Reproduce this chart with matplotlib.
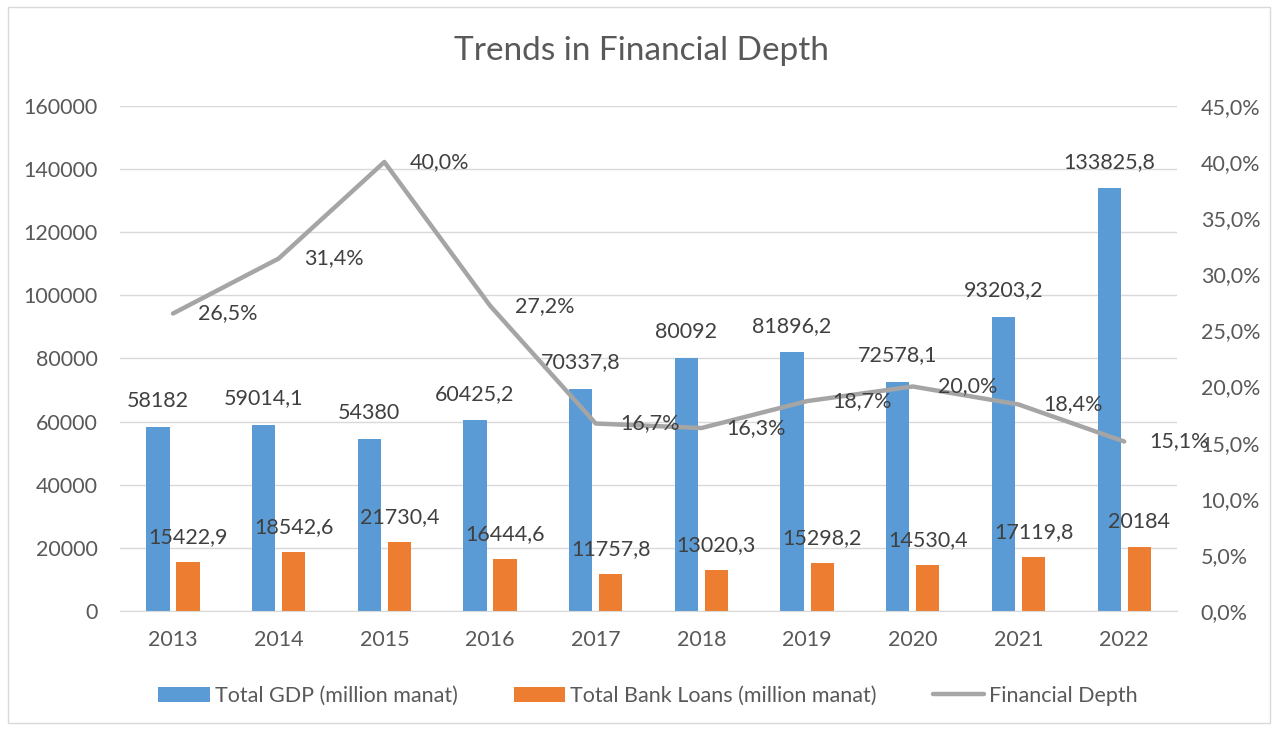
import numpy as np
import matplotlib.pyplot as plt
from matplotlib.patches import Rectangle
from matplotlib.ticker import FuncFormatter

plt.rcParams['font.family'] = ['Lato', 'DejaVu Sans']

years = ["2013", "2014", "2015", "2016", "2017", "2018", "2019", "2020", "2021", "2022"]
gdp = [58182, 59014.1, 54380, 60425.2, 70337.8, 80092, 81896.2, 72578.1, 93203.2, 133825.8]
loans = [15422.9, 18542.6, 21730.4, 16444.6, 11757.8, 13020.3, 15298.2, 14530.4, 17119.8, 20184]
depth = [26.5, 31.4, 40.0, 27.2, 16.7, 16.3, 18.7, 20.0, 18.4, 15.1]

BLUE = "#5B9BD5"
ORANGE = "#ED7D31"
GRAY = "#A5A5A5"
TXT = "#595959"
FS = 15.5


def fmt_num(v):
    s = str(v)
    if s.endswith(".0"):
        s = s[:-2]
    return s.replace(".", ",")


fig = plt.figure(figsize=(12.78, 7.3), dpi=100)
ax = fig.add_axes([0.094, 0.163, 0.827, 0.692])
ax2 = ax.twinx()

x = np.arange(len(years))
w = 0.22
off = 0.142
b1 = ax.bar(x - off, gdp, w, color=BLUE, label="Total GDP (million manat)", zorder=2)
b2 = ax.bar(x + off, loans, w, color=ORANGE, label="Total Bank Loans (million manat)", zorder=2)
ln, = ax2.plot(x, depth, color=GRAY, lw=3.2, label="Financial Depth", solid_capstyle="round")

ax.set_xlim(-0.5, len(years) - 0.5)
ax.set_ylim(0, 160000)
ax.set_yticks(np.arange(0, 160001, 20000))
ax2.set_ylim(0, 45)
ax2.set_yticks(np.arange(0, 46, 5))
ax2.yaxis.set_major_formatter(FuncFormatter(lambda v, p: f"{v:.1f}%".replace(".", ",")))

ax.set_xticks(x)
ax.set_xticklabels(years)
ax.grid(axis="y", color="#D9D9D9", lw=1, zorder=0)
ax.set_axisbelow(True)
for a in (ax, ax2):
    for s in a.spines.values():
        s.set_visible(False)
ax.spines["bottom"].set_visible(True)
ax.spines["bottom"].set_color("#D9D9D9")

ax.tick_params(axis="y", length=0, pad=16, labelsize=FS, labelcolor=TXT)
ax.tick_params(axis="x", length=0, pad=14, labelsize=FS, labelcolor=TXT)
ax2.tick_params(axis="y", length=0, pad=17, labelsize=FS, labelcolor=TXT)

# data labels
for xi, v in zip(x - off, gdp):
    ax.annotate(fmt_num(v), (xi, v), xytext=(0, 19), textcoords="offset points",
                ha="center", va="center", fontsize=FS, color="#404040")
for xi, v in zip(x + off, loans):
    ax.annotate(fmt_num(v), (xi, v), xytext=(0, 18), textcoords="offset points",
                ha="center", va="center", fontsize=FS, color="#404040")
for xi, v in zip(x, depth):
    ax2.annotate(f"{v:.1f}%".replace(".", ","), (xi, v), xytext=(18, 0), textcoords="offset points",
                 ha="left", va="center", fontsize=FS, color="#404040")

fig.text(0.502, 0.93, "Trends in Financial Depth", ha="center", va="center", fontsize=24, color=TXT)

fig.legend(handles=[b1, b2, ln], loc="center", bbox_to_anchor=(0.507, 0.047), ncol=3, frameon=False,
           fontsize=FS, handlelength=2.4, handleheight=0.7, handletextpad=0.23, columnspacing=2.6,
           labelcolor=TXT)

fig.patches.append(Rectangle((0.006, 0.01), 0.988, 0.98, transform=fig.transFigure,
                             fill=False, edgecolor="#D9D9D9", lw=1))

fig.savefig("out.png", dpi=100)
